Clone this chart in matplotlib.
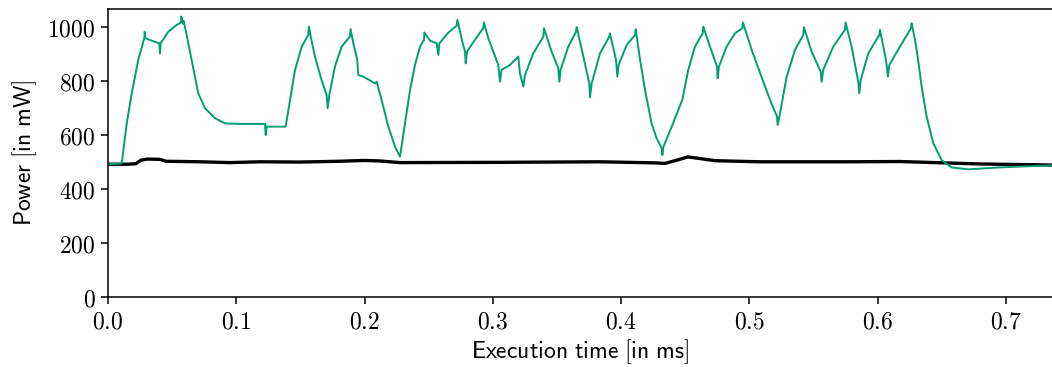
import numpy as np
import matplotlib as mpl
import matplotlib.pyplot as plt
from matplotlib.ticker import FuncFormatter

mpl.rcParams['mathtext.fontset'] = 'cm'

# Power trace of the accelerated run (time in ms, power in mW)
gpu_t = [0.0000, 0.0107, 0.0146, 0.0185, 0.0236, 0.0283, 0.0286, 0.0291, 0.0340, 0.0400, 0.0405,
         0.0410, 0.0470, 0.0535, 0.0569, 0.0571, 0.0587, 0.0590, 0.0613, 0.0652, 0.0704,
         0.0756, 0.0834, 0.0912, 0.1029, 0.1224, 0.1229, 0.1237, 0.1385, 0.1393, 0.1419,
         0.1458, 0.1510, 0.1561, 0.1566, 0.1580, 0.1613, 0.1665, 0.1704, 0.1712, 0.1725,
         0.1769, 0.1821, 0.1886, 0.1891, 0.1912, 0.1943, 0.1951, 0.1990, 0.2081, 0.2094,
         0.2133, 0.2185, 0.2237, 0.2276, 0.2315, 0.2354, 0.2393, 0.2432, 0.2463, 0.2466,
         0.2510, 0.2562, 0.2575, 0.2583, 0.2653, 0.2717, 0.2723, 0.2762, 0.2783, 0.2788,
         0.2798, 0.2860, 0.2925, 0.2930, 0.2964, 0.3003, 0.3042, 0.3055, 0.3068, 0.3133,
         0.3198, 0.3211, 0.3237, 0.3250, 0.3315, 0.3393, 0.3398, 0.3458, 0.3510, 0.3518,
         0.3528, 0.3588, 0.3648, 0.3653, 0.3705, 0.3751, 0.3757, 0.3770, 0.3835, 0.3907,
         0.3912, 0.3960, 0.3970, 0.3980, 0.4043, 0.4108, 0.4113, 0.4147, 0.4186, 0.4237,
         0.4276, 0.4316, 0.4321, 0.4329, 0.4394, 0.4466, 0.4477, 0.4523, 0.4575, 0.4635,
         0.4640, 0.4692, 0.4747, 0.4752, 0.4762, 0.4822, 0.4887, 0.4944, 0.4949, 0.5017,
         0.5069, 0.5126, 0.5186, 0.5214, 0.5220, 0.5238, 0.5290, 0.5355, 0.5419, 0.5424,
         0.5485, 0.5555, 0.5562, 0.5575, 0.5653, 0.5744, 0.5749, 0.5796, 0.5848, 0.5856,
         0.5867, 0.5926, 0.6012, 0.6017, 0.6064, 0.6079, 0.6090, 0.6173, 0.6259, 0.6264,
         0.6290, 0.6311, 0.6342, 0.6381, 0.6433, 0.6498, 0.6576, 0.6705, 0.6939, 0.7355]
gpu_p = [491, 494, 642, 753, 877, 957, 981, 957, 948, 938, 901,
         938, 981, 1006, 1015, 1037, 1010, 1020, 969, 877, 753,
         698, 661, 642, 640, 640, 599, 630, 630, 654, 728,
         840, 926, 969, 1000, 963, 889, 802, 747, 698, 747,
         852, 926, 963, 991, 938, 877, 821, 815, 790, 796,
         728, 630, 556, 519, 642, 765, 858, 926, 951, 978,
         948, 938, 895, 938, 978, 1003, 1025, 944, 907, 864,
         907, 951, 994, 1015, 957, 907, 858, 796, 840, 858,
         889, 827, 778, 821, 901, 963, 994, 907, 846, 796,
         840, 926, 981, 998, 889, 790, 738, 790, 901, 963,
         975, 877, 815, 858, 932, 969, 990, 877, 765, 642,
         587, 550, 525, 555, 630, 716, 730, 840, 926, 975,
         1000, 926, 852, 809, 852, 926, 975, 994, 1015, 914,
         846, 772, 698, 669, 636, 679, 815, 914, 969, 998,
         907, 833, 796, 840, 926, 988, 1015, 926, 796, 753,
         802, 901, 969, 988, 877, 815, 858, 926, 994, 1012,
         951, 889, 778, 667, 568, 506, 479, 472, 479, 487]

# Power trace of the baseline run
cpu_t = [0.0000, 0.0156, 0.0218, 0.0257, 0.0304, 0.0405, 0.0452, 0.0717, 0.0951, 0.1185,
         0.1497, 0.1808, 0.2003, 0.2120, 0.2276, 0.3055, 0.3835, 0.4263, 0.4341, 0.4419,
         0.4520, 0.4614, 0.4731, 0.5082, 0.5783, 0.6173, 0.6446, 0.6797, 0.7358]
cpu_p = [491, 491, 493, 506, 510, 509, 502, 500, 497, 500,
         499, 502, 505, 503, 497, 498, 500, 496, 494, 504,
         518, 512, 504, 500, 500, 501, 497, 492, 488]

fig = plt.figure(figsize=(10.52, 3.67), dpi=100)
ax = fig.add_axes([108 / 1052, 70 / 367, 944 / 1052, 288 / 367])

ax.plot(cpu_t, cpu_p, color='black', lw=2.4)
ax.plot(gpu_t, gpu_p, color='#009E73', lw=1.4)

ax.set_xlim(0, 0.7358)
ax.set_ylim(0, 1065)
ax.set_xticks(np.arange(0, 0.71, 0.1))
ax.set_yticks([0, 200, 400, 600, 800, 1000])
ax.xaxis.set_major_formatter(FuncFormatter(lambda v, p: f'${v:.1f}$'))
ax.yaxis.set_major_formatter(FuncFormatter(lambda v, p: f'${v:.0f}$'))
ax.tick_params(labelsize=17, length=5, width=1.1, pad=4)
ax.spines['right'].set_visible(False)
for s in ('left', 'bottom', 'top'):
    ax.spines[s].set_linewidth(1.1)

ax.set_xlabel(r'$\mathsf{Execution\ time\ [in\ ms]}$', fontsize=17, labelpad=3)
ax.set_ylabel(r'$\mathsf{Power\ [in\ mW]}$', fontsize=17, labelpad=6)

fig.savefig('out.png', dpi=100)
